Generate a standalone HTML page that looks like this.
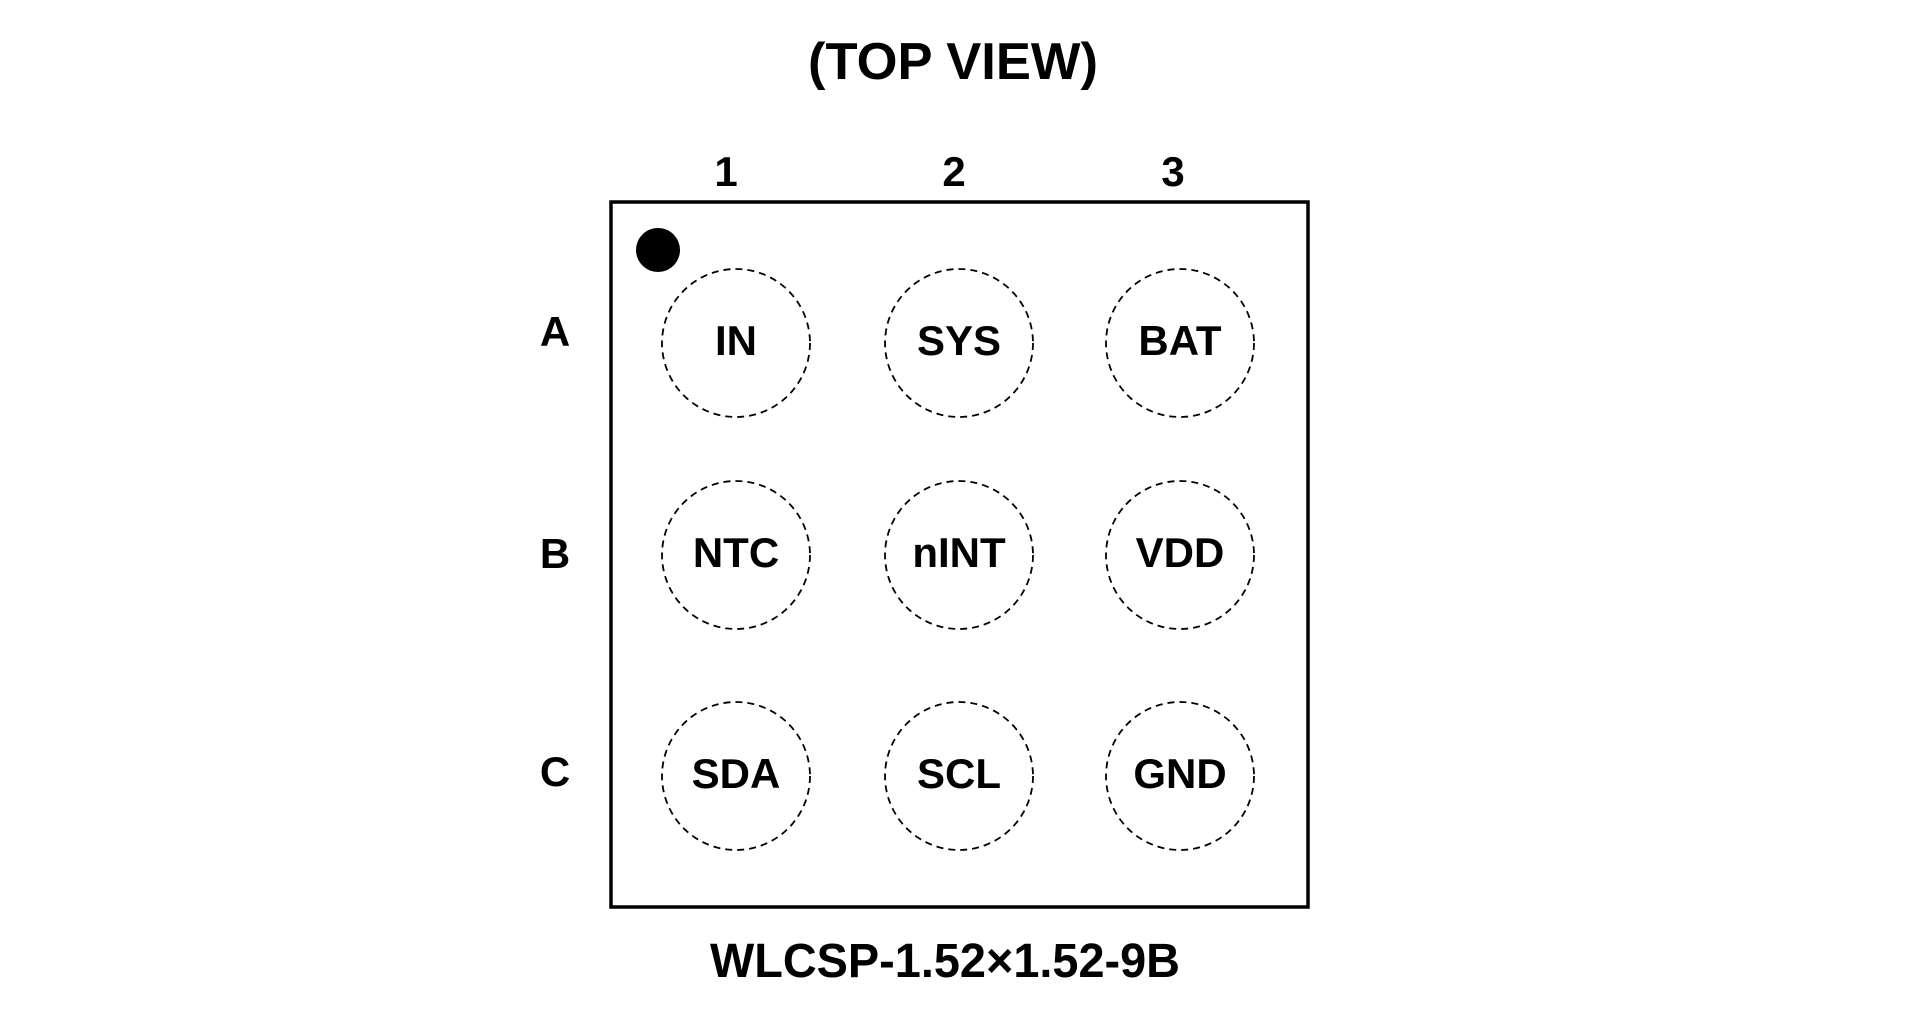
<!DOCTYPE html>
<html><head><meta charset="utf-8"><style>
html,body{margin:0;padding:0;background:#fff;}
svg{display:block;}
text{font-family:"Liberation Sans",Arial,sans-serif;font-weight:bold;fill:#000;text-anchor:middle;}
</style></head><body>
<svg width="1920" height="1010" viewBox="0 0 1920 1010" xmlns="http://www.w3.org/2000/svg">
<rect width="1920" height="1010" fill="#fff"/>
<text x="953" y="79" font-size="52" textLength="290" lengthAdjust="spacingAndGlyphs">(TOP VIEW)</text>
<text x="726" y="186" font-size="42">1</text>
<text x="954" y="186" font-size="42">2</text>
<text x="1173" y="186" font-size="42">3</text>
<text x="555" y="346" font-size="42">A</text>
<text x="555" y="568" font-size="42">B</text>
<text x="555" y="786" font-size="42">C</text>
<rect x="611" y="202" width="697" height="705" fill="none" stroke="#000" stroke-width="3.5"/>
<circle cx="658" cy="250" r="22" fill="#000"/>
<g fill="none" stroke="#000" stroke-width="1.8" stroke-dasharray="7 5">
<circle cx="736" cy="343" r="74"/><circle cx="959" cy="343" r="74"/><circle cx="1180" cy="343" r="74"/>
<circle cx="736" cy="555" r="74"/><circle cx="959" cy="555" r="74"/><circle cx="1180" cy="555" r="74"/>
<circle cx="736" cy="776" r="74"/><circle cx="959" cy="776" r="74"/><circle cx="1180" cy="776" r="74"/>
</g>
<g font-size="42">
<text x="736" y="355">IN</text><text x="959" y="355">SYS</text><text x="1180" y="355">BAT</text>
<text x="736" y="567">NTC</text><text x="959" y="567">nINT</text><text x="1180" y="567">VDD</text>
<text x="736" y="788">SDA</text><text x="959" y="788">SCL</text><text x="1180" y="788">GND</text>
</g>
<text x="945" y="977" font-size="48" textLength="470" lengthAdjust="spacingAndGlyphs">WLCSP-1.52×1.52-9B</text>
</svg>
</body></html>
